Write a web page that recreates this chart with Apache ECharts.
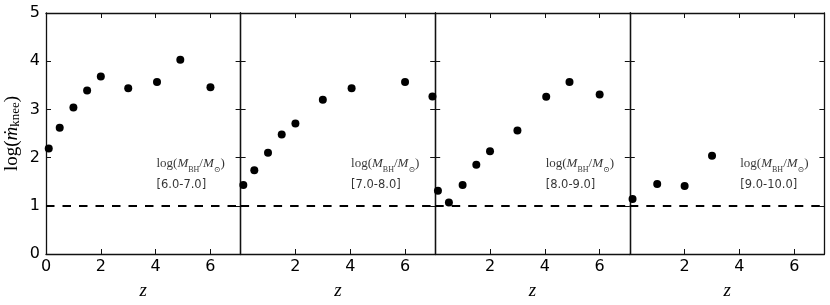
<!DOCTYPE html>
<html>
<head>
<meta charset="utf-8">
<script src="https://cdn.jsdelivr.net/npm/echarts@6/dist/echarts.min.js"></script>
<style>
html,body{margin:0;padding:0;background:#fff;}
#chart{width:830px;height:305px;}
</style>
</head>
<body>
<div id="chart"></div>
<script>
// ---- data ----
var binLabels = ["[6.0-7.0]", "[7.0-8.0]", "[8.0-9.0]", "[9.0-10.0]"];
var z1 = [0.1, 0.5, 1.0, 1.5, 2.0, 3.0, 4.05, 4.9, 6.0];
var m1 = [2.19, 2.62, 3.04, 3.39, 3.68, 3.44, 3.57, 4.03, 3.46];
var z2 = [0.1, 0.5, 1.0, 1.5, 2.0, 3.0, 4.05, 6.0, 7.0];
var m2 = [1.43, 1.74, 2.10, 2.48, 2.71, 3.20, 3.44, 3.57, 3.27];
var z3 = [0.1, 0.5, 1.0, 1.5, 2.0, 3.0, 4.05, 4.9, 6.0];
var m3 = [1.31, 1.07, 1.43, 1.85, 2.13, 2.56, 3.26, 3.57, 3.31];
var z4 = [0.1, 1.0, 2.0, 3.0];
var m4 = [1.14, 1.45, 1.41, 2.04];
var xTicks = [0, 2, 4, 6];
var yTicks = [0, 1, 2, 3, 4, 5];
var refLevel = 1;
var annotPos = [4.03, 1.64];

var zs = [z1, z2, z3, z4];
var ms = [m1, m2, m3, m4];

// ---- layout ----
var panelLeft = 46, panelW = 194.6, gridTop = 13, gridBottom = 51;
var xMax = 7.1;
var tickFont = 'DejaVu Sans';
var serif = 'Liberation Serif, DejaVu Serif, serif';
var spine = {color: '#111', width: 1.3};

var grids = [], xAxes = [], yAxes = [], series = [];
for (var i = 0; i < 4; i++) {
  grids.push({left: panelLeft + i * panelW, width: panelW, top: gridTop, bottom: gridBottom, containLabel: false});
  (function(i){
    xAxes.push({
      type: 'value', gridIndex: i, min: 0, max: xMax, interval: 2, position: 'bottom',
      axisLine: {show: true, onZero: false, lineStyle: spine},
      axisTick: {show: true, inside: true, length: 5, lineStyle: {color: '#111'}},
      axisLabel: {show: true, fontFamily: tickFont, fontSize: 16, color: '#000', margin: 5,
        showMaxLabel: false,
        formatter: function(v){ return (xTicks.indexOf(v) >= 0 && (i === 0 || v !== 0)) ? String(v) : ''; }},
      splitLine: {show: false},
      name: 'z', nameLocation: 'middle', nameGap: 27,
      nameTextStyle: {fontFamily: serif, fontStyle: 'italic', fontSize: 19, color: '#000'}
    });
    xAxes.push({
      type: 'value', gridIndex: i, min: 0, max: xMax, interval: 2, position: 'top',
      axisLine: {show: true, onZero: false, lineStyle: spine},
      axisTick: {show: true, inside: true, length: 5, lineStyle: {color: '#111'}},
      axisLabel: {show: false}, splitLine: {show: false}
    });
    var yl = {
      type: 'value', gridIndex: i, min: 0, max: 5, interval: 1, position: 'left',
      axisLine: {show: true, onZero: false, lineStyle: spine},
      axisTick: {show: true, inside: true, length: 5, lineStyle: {color: '#111'}},
      axisLabel: {show: i === 0, fontFamily: tickFont, fontSize: 16, color: '#000', margin: 6,
        formatter: function(v){ return yTicks.indexOf(v) >= 0 ? String(v) : ''; }},
      splitLine: {show: false}
    };
    if (i === 0) {
      yl.name = '{n|log(}{i|ṁ}{s|knee}{n|)}';
      yl.nameLocation = 'middle';
      yl.nameGap = 24;
      yl.nameRotate = 90;
      yl.nameTextStyle = {
        color: '#000',
        rich: {
          n: {fontFamily: serif, fontSize: 19, lineHeight: 20, color: '#000'},
          i: {fontFamily: serif, fontStyle: 'italic', fontSize: 19, lineHeight: 20, color: '#000'},
          s: {fontFamily: serif, fontSize: 13, lineHeight: 8, verticalAlign: 'bottom', color: '#000'}
        }
      };
    }
    yAxes.push(yl);
    yAxes.push({
      type: 'value', gridIndex: i, min: 0, max: 5, interval: 1, position: 'right',
      axisLine: {show: true, onZero: false, lineStyle: spine},
      axisTick: {show: true, inside: true, length: 5, lineStyle: {color: '#111'}},
      axisLabel: {show: false}, splitLine: {show: false}
    });

    var pts = zs[i].map(function(z, k){ return [z, ms[i][k]]; });
    series.push({
      type: 'scatter', xAxisIndex: 2 * i, yAxisIndex: 2 * i, data: pts,
      symbol: 'circle', symbolSize: 8, itemStyle: {color: '#000', opacity: 1},
      clip: false, silent: true, z: 5,
      markLine: {
        silent: true, symbol: 'none', animation: false,
        label: {show: false},
        lineStyle: {color: '#000', type: [8.5, 8], width: 1.8, opacity: 1},
        data: [{yAxis: refLevel}]
      }
    });
    series.push({
      type: 'scatter', xAxisIndex: 2 * i, yAxisIndex: 2 * i,
      data: [annotPos], symbolSize: 0, silent: true,
      label: {
        show: true, position: 'right', distance: 0, color: '#000',
        formatter: '{n|log(}{i|M}{s|BH}{n|/}{i|M}{s|⊙}{n|)}\n{b|' + binLabels[i] + '}',
        rich: {
          n: {fontFamily: serif, fontSize: 13, lineHeight: 20, color: '#000'},
          i: {fontFamily: serif, fontStyle: 'italic', fontSize: 13, lineHeight: 20, color: '#000'},
          s: {fontFamily: serif, fontSize: 8, lineHeight: 12, verticalAlign: 'bottom', color: '#000'},
          b: {fontFamily: tickFont, fontSize: 11.5, lineHeight: 22, color: '#000'}
        }
      }
    });
  })(i);
}

var chart = echarts.init(document.getElementById('chart'), null, {renderer: 'canvas'});
chart.setOption({
  animation: false,
  backgroundColor: '#fff',
  grid: grids, xAxis: xAxes, yAxis: yAxes, series: series
});
</script>
</body>
</html>
